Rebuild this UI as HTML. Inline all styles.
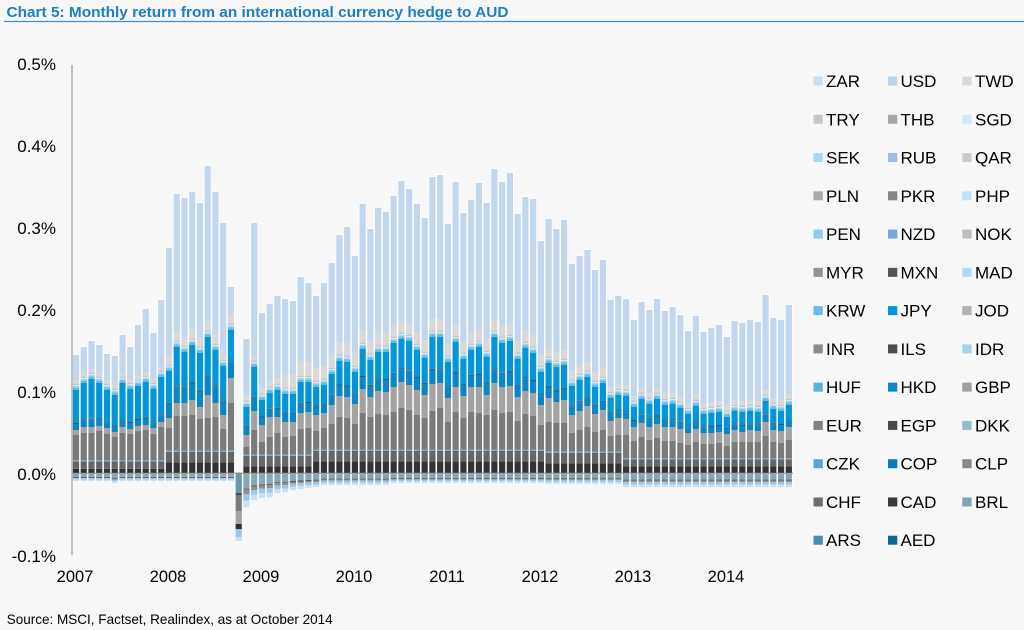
<!DOCTYPE html>
<html><head><meta charset="utf-8">
<style>
html,body{margin:0;padding:0;background:#f7f7f7;}
svg{display:block;}
text{font-family:"Liberation Sans",Arial,sans-serif;}
</style></head>
<body>
<svg id="c" width="1024" height="630" viewBox="0 0 1024 630" xmlns="http://www.w3.org/2000/svg">
<rect width="1024" height="630" fill="#f7f7f7"/>
<text x="6.5" y="17" font-size="14.5" font-weight="bold" fill="#1b7fc3" textLength="502" lengthAdjust="spacingAndGlyphs">Chart 5: Monthly return from an international currency hedge to AUD</text>
<line x1="4" y1="21.5" x2="1024" y2="21.5" stroke="#3a8ecb" stroke-width="1.2"/>
<g font-size="17" fill="#000" text-anchor="end">
<text x="56" y="70">0.5%</text>
<text x="56" y="152">0.4%</text>
<text x="56" y="234">0.3%</text>
<text x="56" y="316">0.2%</text>
<text x="56" y="398">0.1%</text>
<text x="56" y="480">0.0%</text>
<text x="56" y="562">-0.1%</text>
</g>
<g id="bars"></g>
<line x1="72" y1="65" x2="72" y2="555" stroke="#868686" stroke-width="1"/>
<line x1="72" y1="473.3" x2="793" y2="473.3" stroke="#8a8a8a" stroke-width="1"/>
<g font-size="16.5" fill="#000" text-anchor="middle">
<text x="75" y="582">2007</text>
<text x="168" y="582">2008</text>
<text x="261" y="582">2009</text>
<text x="354" y="582">2010</text>
<text x="447" y="582">2011</text>
<text x="540" y="582">2012</text>
<text x="633" y="582">2013</text>
<text x="726" y="582">2014</text>
</g>
<g id="legend" font-size="17" fill="#000"></g>
<text x="6.7" y="624" font-size="14" fill="#000" textLength="326" lengthAdjust="spacingAndGlyphs">Source: MSCI, Factset, Realindex, as at October 2014</text>
</svg>
<script>
(function(){
var NS="http://www.w3.org/2000/svg";
var top=[355,347,341,345,354,356,335,347,325,309,333,300,248,194,198,192,203,166,192,223,287,473,339,223,313,304,296,299,301,277,283,296,283,263,235,227,256,204,229,208,212,196,181,189,204,218,177,175,224,182,213,200,183,203,169,182,173,214,197,199,241,219,229,220,264,256,250,270,260,300,296,299,320,302,310,299,311,307,315,331,316,332,328,325,337,321,323,320,322,295,318,320,305];
var jt=[390,383,379,383,390,395,383,389,386,382,389,377,371,347,352,345,353,337,350,366,330,0,407,367,400,393,390,394,394,382,382,387,385,374,361,362,372,349,360,352,352,343,339,341,350,358,337,337,362,342,359,350,347,357,337,343,341,359,348,353,372,363,367,365,386,380,377,387,383,398,395,396,407,399,404,399,405,404,408,414,406,414,413,412,417,411,412,411,412,401,409,411,405];
var lg=[430,427,427,426,428,432,427,429,426,425,428,422,418,403,403,400,407,395,403,415,378,0,435,411,425,417,417,422,422,413,412,415,413,405,396,397,404,389,397,391,392,387,382,385,390,395,384,383,398,387,396,387,387,395,383,387,386,397,391,393,405,398,402,400,415,411,406,414,410,421,418,419,427,423,427,424,427,427,429,433,429,433,433,432,434,430,432,430,431,422,430,431,427];
var mg=[435,433,433,431,434,437,433,434,431,430,434,427,428,416,416,415,419,418,417,429,403,0,447,430,442,437,433,437,436,429,428,431,428,424,417,418,424,413,417,414,415,412,408,410,415,418,411,408,422,412,418,412,413,415,410,413,412,421,414,416,425,422,423,423,433,430,427,432,430,436,435,435,441,437,440,438,441,441,443,445,442,444,444,443,446,442,442,442,442,436,442,443,440];
var Z=473.3;
function dkH(i){if(i<12)return 4.5;if(i<=20)return 11;if(i<=30)return 7;if(i<=60)return 12;if(i<=70)return 10;return 7;}
function g2H(i){if(i<12)return 7.5;if(i<=70)return 10.5;return 7;}
function twH(i){if(i<12)return 3;if(i<=20)return 9;if(i<=26)return 5;if(i<=40)return 12;if(i<=60)return 11;if(i<=68)return 8;return 4;}
function hkF(i){if(i<12)return 0.15;return 0.3;}
function negD(i){
 if(i<12)return (i==5?10:8);
 if(i<=20)return 8;
 var m={22:34,23:27,24:25,25:24,26:20,27:19,28:17,29:16,30:15,31:14};
 if(m[i])return m[i];
 if(i<=40)return 12;
 if(i<=60)return 10;
 if(i<=70)return 11;
 return 14;
}
var g=document.getElementById("bars");
function rect(x,w,y1,y2,c,op){
 if(y2<=y1)return;
 var r=document.createElementNS(NS,"rect");
 r.setAttribute("x",x.toFixed(2));r.setAttribute("width",w.toFixed(2));
 r.setAttribute("y",y1.toFixed(2));r.setAttribute("height",(y2-y1).toFixed(2));
 r.setAttribute("fill",c);
 if(op)r.setAttribute("fill-opacity",op);
 g.appendChild(r);
}
for(var i=0;i<93;i++){
 var cx=76+i*7.748;
 var xo=cx-3.85, wo=7.7, xi=cx-3.1, wi=6.2;
 if(i==21){
  rect(xo,wo,471.8,541.8,"#ffffff",0.85);
  var s=[[472.5,493,"#6b97ad"],[493,495,"#3f4f58"],[495,511,"#7b7b7b"],[511,524,"#a3a3a3"],[524,529,"#333333"],[529,537,"#9cc3e6"],[537,541,"#c8e0f3"]];
  s.forEach(function(a){rect(xi,wi,a[0],a[1],a[2]);});
  continue;
 }
 var t=top[i], d=negD(i);
 rect(xo,wo,t-0.7,Z+d+0.7,"#ffffff",0.85);
 var dk=dkH(i), g2=g2H(i);
 var yA=Z-dk, yB=yA-g2, yC=yB-1;
 var m=Math.min(mg[i],yC-1), l=Math.min(lg[i],m), j=jt[i];
 rect(xi,wi,yA,Z,"#333333");
 rect(xi,wi,yB,yA,"#666666");
 rect(xi,wi,yC,yB,"#62b0dc");
 rect(xi,wi,m,yC,"#7b7b7b");
 rect(xi,wi,l,m,"#a3a3a3");
 var hk=Math.max(2,hkF(i)*(l-j));
 rect(xi,wi,l-hk,l,"#0a86c6");
 rect(xi,wi,l-hk-1,l-hk,"#38566a");
 rect(xi,wi,j,l-hk-1,"#0096d8");
 rect(xi,wi,j-2.5,j,"#66bce8");
 rect(xi,wi,j-4,j-2.5,"#a6d5ef");
 rect(xi,wi,j-5.5,j-4,"#d2eaf6");
 rect(xi,wi,j-6.3,j-5.5,"#a8a8a8");
 var tw=twH(i);
 rect(xi,wi,j-6.3-tw,j-6.3,"#d9d9d9");
 rect(xi,wi,t,j-6.3-tw,"#c2d6ee");
 var n0=Z+0.5;
 rect(xi,wi,n0,Z+0.45*d,"#86a7b8");
 rect(xi,wi,Z+0.45*d,Z+0.45*d+1,"#555555");
 rect(xi,wi,Z+0.45*d+1,Z+0.62*d,"#8e8e8e");
 rect(xi,wi,Z+0.62*d,Z+0.8*d,"#9ec4e8");
 rect(xi,wi,Z+0.8*d,Z+d,"#c9e1f3");
}
var L=[["ZAR","#c6e0f4"],["USD","#bcd3ee"],["TWD","#d9d9d9"],
["TRY","#c8c8c8"],["THB","#a6a6a6"],["SGD","#cfe9f6"],
["SEK","#acd7f0"],["RUB","#9dbde6"],["QAR","#cccccc"],
["PLN","#aaaaaa"],["PKR","#858585"],["PHP","#bfe3f5"],
["PEN","#8fcbec"],["NZD","#6fa8dc"],["NOK","#bfbfbf"],
["MYR","#939393"],["MXN","#555555"],["MAD","#b0dcf2"],
["KRW","#67bde9"],["JPY","#0097d9"],["JOD","#b2b2b2"],
["INR","#8c8c8c"],["ILS","#4d4d4d"],["IDR","#a9d2e6"],
["HUF","#5ab1da"],["HKD","#0a88c9"],["GBP","#a0a0a0"],
["EUR","#808080"],["EGP","#4a4a4a"],["DKK","#95bccf"],
["CZK","#59a5cc"],["COP","#0779b6"],["CLP","#888888"],
["CHF","#6d6d6d"],["CAD","#3a3a3a"],["BRL","#7fa6b8"],
["ARS","#4b8db1"],["AED","#0a6a9a"]];
var lgG=document.getElementById("legend");
var sx=[813.5,888,962.3], tx=[826,900.5,975];
L.forEach(function(it,k){
 var r=Math.floor(k/3), c=k%3;
 var cy=81+38.27*r;
 var s=document.createElementNS(NS,"rect");
 s.setAttribute("x",sx[c]);s.setAttribute("y",(cy-4.5).toFixed(2));
 s.setAttribute("width",9.3);s.setAttribute("height",9);
 s.setAttribute("fill",it[1]);
 lgG.appendChild(s);
 var t=document.createElementNS(NS,"text");
 t.setAttribute("x",tx[c]);t.setAttribute("y",(cy+6).toFixed(2));
 t.textContent=it[0];
 lgG.appendChild(t);
});
})();
</script>
</body></html>
